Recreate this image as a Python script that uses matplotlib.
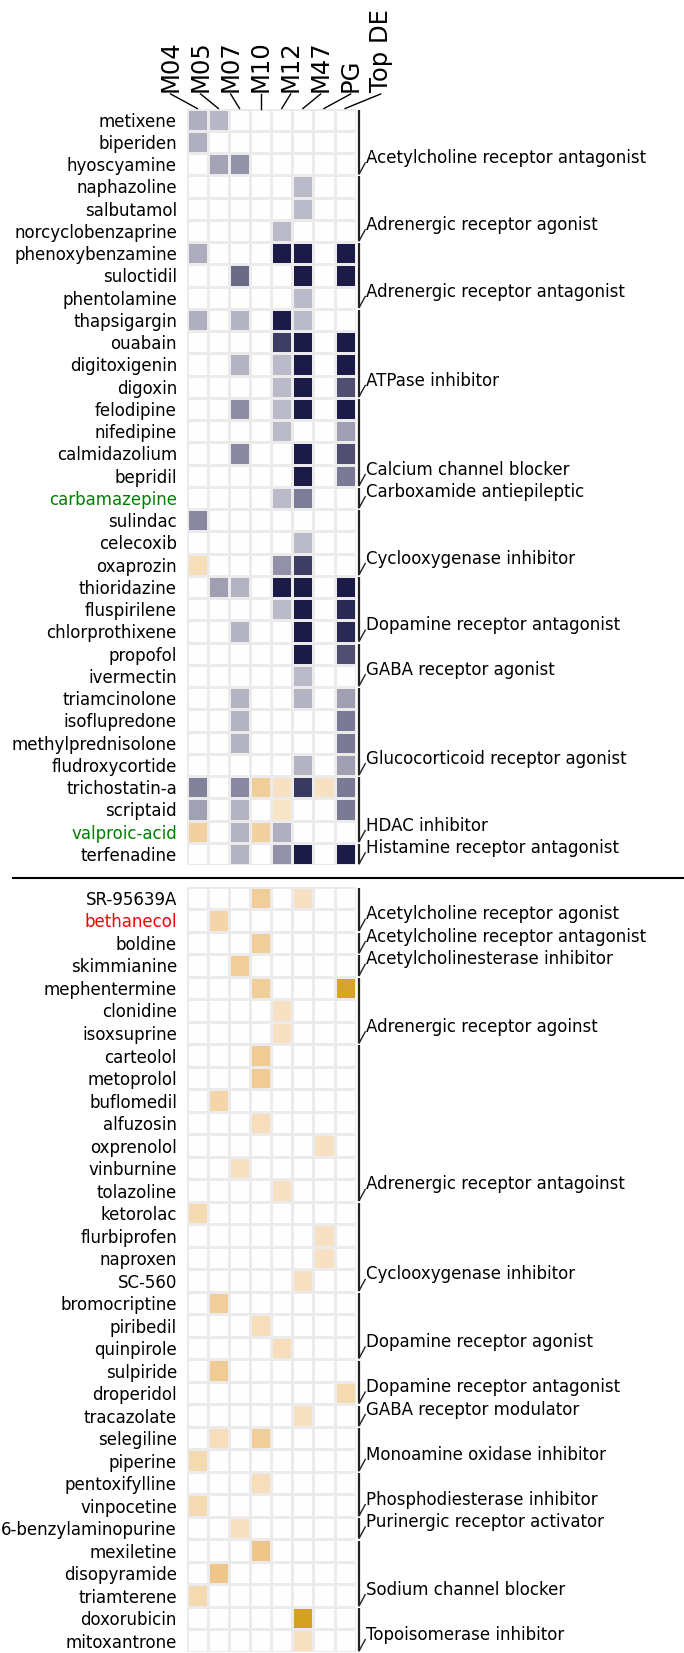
import numpy as np
import matplotlib
matplotlib.use('Agg')
import matplotlib.pyplot as plt
from matplotlib.colors import LinearSegmentedColormap, Normalize
from matplotlib.lines import Line2D

columns = ['M04', 'M05', 'M07', 'M10', 'M12', 'M47', 'PG', 'Top DE']

# upper block: drugs hit in the top DE direction (purple), a few reversed (orange)
upper_drugs = ['metixene', 'biperiden', 'hyoscyamine', 'naphazoline', 'salbutamol',
               'norcyclobenzaprine', 'phenoxybenzamine', 'suloctidil', 'phentolamine',
               'thapsigargin', 'ouabain', 'digitoxigenin', 'digoxin', 'felodipine',
               'nifedipine', 'calmidazolium', 'bepridil', 'carbamazepine', 'sulindac',
               'celecoxib', 'oxaprozin', 'thioridazine', 'fluspirilene', 'chlorprothixene',
               'propofol', 'ivermectin', 'triamcinolone', 'isoflupredone',
               'methylprednisolone', 'fludroxycortide', 'trichostatin-a', 'scriptaid',
               'valproic-acid', 'terfenadine']
upper_vals = [
    [0.35, 0.32, 0, 0, 0, 0, 0, 0],
    [0.35, 0, 0, 0, 0, 0, 0, 0],
    [0, 0.40, 0.47, 0, 0, 0, 0, 0],
    [0, 0, 0, 0, 0, 0.30, 0, 0],
    [0, 0, 0, 0, 0, 0.30, 0, 0],
    [0, 0, 0, 0, 0.30, 0, 0, 0],
    [0.36, 0, 0, 0, 1.0, 1.0, 0, 1.0],
    [0, 0, 0.65, 0, 0, 1.0, 0, 1.0],
    [0, 0, 0, 0, 0, 0.30, 0, 0],
    [0.35, 0, 0.33, 0, 1.0, 0.30, 0, 0],
    [0, 0, 0, 0, 0.85, 1.0, 0, 1.0],
    [0, 0, 0.33, 0, 0.30, 1.0, 0, 1.0],
    [0, 0, 0, 0, 0.30, 1.0, 0, 0.77],
    [0, 0, 0.50, 0, 0.30, 1.0, 0, 1.0],
    [0, 0, 0, 0, 0.30, 0, 0, 0.42],
    [0, 0, 0.52, 0, 0, 1.0, 0, 0.77],
    [0, 0, 0, 0, 0, 1.0, 0, 0.58],
    [0, 0, 0, 0, 0.30, 0.57, 0, 0],
    [0.52, 0, 0, 0, 0, 0, 0, 0],
    [0, 0, 0, 0, 0, 0.30, 0, 0],
    [-0.30, 0, 0, 0, 0.48, 0.85, 0, 0],
    [0, 0.42, 0.33, 0, 1.0, 1.0, 0, 1.0],
    [0, 0, 0, 0, 0.30, 1.0, 0, 0.93],
    [0, 0, 0.33, 0, 0, 1.0, 0, 0.93],
    [0, 0, 0, 0, 0, 1.0, 0, 0.77],
    [0, 0, 0, 0, 0, 0.30, 0, 0],
    [0, 0, 0.33, 0, 0, 0.33, 0, 0.42],
    [0, 0, 0.33, 0, 0, 0, 0, 0.58],
    [0, 0, 0.33, 0, 0, 0, 0, 0.58],
    [0, 0, 0, 0, 0, 0.33, 0, 0.42],
    [0.55, 0, 0.52, -0.45, -0.27, 0.86, -0.27, 0.58],
    [0.41, 0, 0.33, 0, -0.25, 0, 0, 0.58],
    [-0.42, 0, 0.33, -0.42, 0.35, 0, 0, 0],
    [0, 0, 0.33, 0, 0.48, 1.0, 0, 1.0],
]
upper_groups = [('Acetylcholine receptor antagonist', 3),
                ('Adrenergic receptor agonist', 3),
                ('Adrenergic receptor antagonist', 3),
                ('ATPase inhibitor', 4),
                ('Calcium channel blocker', 4),
                ('Carboxamide antiepileptic', 1),
                ('Cyclooxygenase inhibitor', 3),
                ('Dopamine receptor antagonist', 3),
                ('GABA receptor agonist', 2),
                ('Glucocorticoid receptor agonist', 4),
                ('HDAC inhibitor', 3),
                ('Histamine receptor antagonist', 1)]
upper_colors = {'carbamazepine': 'green', 'valproic-acid': 'green'}

# lower block
lower_drugs = ['SR-95639A', 'bethanecol', 'boldine', 'skimmianine', 'mephentermine',
               'clonidine', 'isoxsuprine', 'carteolol', 'metoprolol', 'buflomedil',
               'alfuzosin', 'oxprenolol', 'vinburnine', 'tolazoline', 'ketorolac',
               'flurbiprofen', 'naproxen', 'SC-560', 'bromocriptine', 'piribedil',
               'quinpirole', 'sulpiride', 'droperidol', 'tracazolate', 'selegiline',
               'piperine', 'pentoxifylline', 'vinpocetine', '6-benzylaminopurine',
               'mexiletine', 'disopyramide', 'triamterene', 'doxorubicin', 'mitoxantrone']
lower_vals = [
    [0, 0, 0, -0.45, 0, -0.27, 0, 0],
    [0, -0.38, 0, 0, 0, 0, 0, 0],
    [0, 0, 0, -0.45, 0, 0, 0, 0],
    [0, 0, -0.45, 0, 0, 0, 0, 0],
    [0, 0, 0, -0.45, 0, 0, 0, -0.95],
    [0, 0, 0, 0, -0.27, 0, 0, 0],
    [0, 0, 0, 0, -0.27, 0, 0, 0],
    [0, 0, 0, -0.47, 0, 0, 0, 0],
    [0, 0, 0, -0.47, 0, 0, 0, 0],
    [0, -0.38, 0, 0, 0, 0, 0, 0],
    [0, 0, 0, -0.30, 0, 0, 0, 0],
    [0, 0, 0, 0, 0, 0, -0.27, 0],
    [0, 0, -0.27, 0, 0, 0, 0, 0],
    [0, 0, 0, 0, -0.27, 0, 0, 0],
    [-0.33, 0, 0, 0, 0, 0, 0, 0],
    [0, 0, 0, 0, 0, 0, -0.27, 0],
    [0, 0, 0, 0, 0, 0, -0.27, 0],
    [0, 0, 0, 0, 0, -0.27, 0, 0],
    [0, -0.45, 0, 0, 0, 0, 0, 0],
    [0, 0, 0, -0.30, 0, 0, 0, 0],
    [0, 0, 0, 0, -0.30, 0, 0, 0],
    [0, -0.47, 0, 0, 0, 0, 0, 0],
    [0, 0, 0, 0, 0, 0, 0, -0.35],
    [0, 0, 0, 0, 0, -0.27, 0, 0],
    [0, -0.30, 0, -0.45, 0, 0, 0, 0],
    [-0.35, 0, 0, 0, 0, 0, 0, 0],
    [0, 0, 0, -0.30, 0, 0, 0, 0],
    [-0.33, 0, 0, 0, 0, 0, 0, 0],
    [0, 0, -0.27, 0, 0, 0, 0, 0],
    [0, 0, 0, -0.52, 0, 0, 0, 0],
    [0, -0.52, 0, 0, 0, 0, 0, 0],
    [-0.35, 0, 0, 0, 0, 0, 0, 0],
    [0, 0, 0, 0, 0, -1.0, 0, 0],
    [0, 0, 0, 0, 0, -0.27, 0, 0],
]
lower_groups = [('Acetylcholine receptor agonist', 2),
                ('Acetylcholine receptor antagonist', 1),
                ('Acetylcholinesterase inhibitor', 1),
                ('Adrenergic receptor agoinst', 3),
                ('Adrenergic receptor antagoinst', 7),
                ('Cyclooxygenase inhibitor', 4),
                ('Dopamine receptor agonist', 3),
                ('Dopamine receptor antagonist', 2),
                ('GABA receptor modulator', 1),
                ('Monoamine oxidase inhibitor', 2),
                ('Phosphodiesterase inhibitor', 2),
                ('Purinergic receptor activator', 1),
                ('Sodium channel blocker', 3),
                ('Topoisomerase inhibitor', 2)]
lower_colors = {'bethanecol': 'red'}

W, H = 684, 1653
fig = plt.figure(figsize=(W / 100, H / 100), dpi=100)

cmap = LinearSegmentedColormap.from_list(
    'gold_navy',
    [(0.0, '#d4a020'), (0.25, '#f0c88e'), (0.5, '#ffffff'), (1.0, '#1c1b48')])
norm = Normalize(-1, 1)

grid_left, grid_right = 186.7, 355.7


def px_box(left, top, right, bottom):
    return [left / W, 1 - bottom / H, (right - left) / W, (bottom - top) / H]


def draw_block(top, bottom, drugs, vals, groups, colored):
    ax = fig.add_axes(px_box(grid_left, top, grid_right, bottom))
    data = np.array(vals)
    n = len(drugs)
    ax.pcolormesh(np.arange(9), np.arange(n + 1), data, cmap=cmap, norm=norm,
                  edgecolors='#ebebeb', linewidth=0.9)
    ax.set_xlim(0, 8)
    ax.set_ylim(n, 0)
    ax.set_xticks([])
    ax.set_yticks(np.arange(n) + 0.5)
    ax.set_yticklabels(drugs, fontsize=12)
    ax.tick_params(axis='y', length=0, pad=7)
    for lab in ax.get_yticklabels():
        lab.set_color(colored.get(lab.get_text(), 'black'))
    for s in ax.spines.values():
        s.set_visible(False)

    # group brackets on the right
    start = 0
    for name, k in groups:
        end = start + k
        ax.plot([8.16, 8.16], [start + 0.05, end - 0.05], color='#222222', lw=1.6,
                clip_on=False, solid_capstyle='butt')
        ax.plot([8.16, 8.45], [end - 0.05, end - 0.55], color='#222222', lw=1.0,
                clip_on=False)
        ax.text(8.48, end - 0.55, name, fontsize=12, ha='left', va='baseline')
        start = end
    return ax


draw_block(108.5, 865, upper_drugs, upper_vals, upper_groups, upper_colors)
draw_block(886.7, 1652, lower_drugs, lower_vals, lower_groups, lower_colors)

# column labels with leader lines
cell_w = (grid_right - grid_left) / 8
col_centers = grid_left + (np.arange(8) + 0.5) * cell_w
label_x = col_centers[3] + (np.arange(8) - 3) * 30
for i, c in enumerate(columns):
    fig.text(label_x[i] / W, 1 - 92 / H, c, rotation=90, ha='center', va='bottom',
             fontsize=17.5)
    fig.add_artist(Line2D([label_x[i] / W, col_centers[i] / W],
                          [1 - 94 / H, 1 - 108.5 / H], color='black', lw=1.0))

# separator between the two blocks
fig.add_artist(Line2D([13 / W, 1], [1 - 878 / H, 1 - 878 / H], color='black', lw=1.5))

fig.savefig('out.png', dpi=100)
